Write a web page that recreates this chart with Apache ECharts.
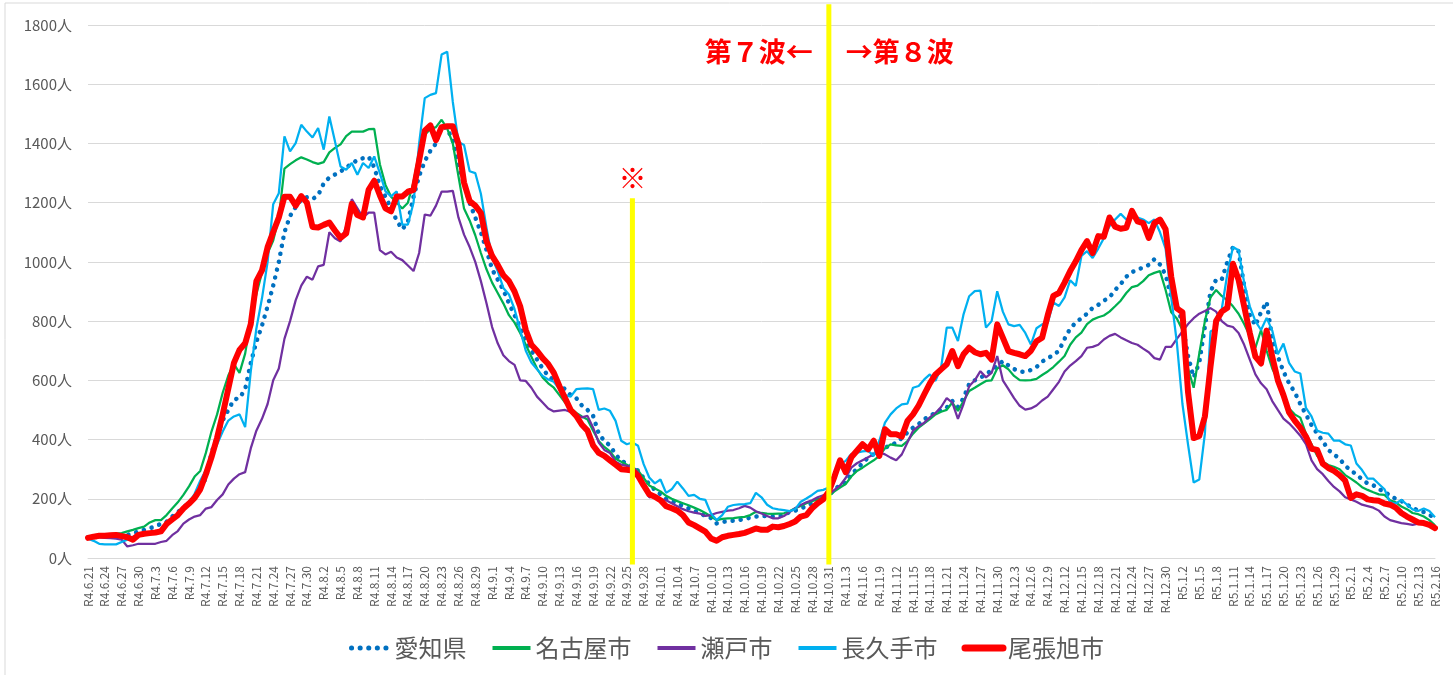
<!DOCTYPE html>
<html>
<head>
<meta charset="utf-8">
<title>新規陽性者数 推移</title>
<script src="https://cdn.jsdelivr.net/npm/echarts@6/dist/echarts.min.js"></script>
<style>
  html, body { margin: 0; padding: 0; background: #fff; }
  #chart { width: 1453px; height: 675px; }
</style>
</head>
<body>
<div id="chart"></div>
<script>
// R4.6.21 〜 R5.2.16 (daily)
const dates = []
for (let d = new Date(2022, 5, 21); d <= new Date(2023, 1, 16); d.setDate(d.getDate() + 1)) {
  const era = d.getFullYear() === 2022 ? 'R4' : 'R5'
  dates.push(era + '.' + (d.getMonth() + 1) + '.' + d.getDate())
}

const yTicks = [0, 200, 400, 600, 800, 1000, 1200, 1400, 1600, 1800]

// 愛知県
const aichi = [
  70, 70, 72, 74, 74, 75, 76, 78, 82, 90,
  95, 100, 108, 115, 122, 140, 155, 170, 188, 205, 232, 270, 355, 410, 465, 500, 535, 540, 570, 659, 730, 785, 850, 920, 1000, 1100, 1155, 1185, 1210, 1218, 1212,
  1225, 1265, 1285, 1295, 1305, 1320, 1330, 1345, 1350, 1355, 1320, 1256, 1220, 1180, 1140, 1110, 1135, 1220, 1290, 1340, 1375, 1400, 1460, 1450, 1410, 1330, 1260, 1200, 1150, 1100, 1040,
  975, 940, 905, 860, 820, 780, 735, 700, 670, 640, 615, 600, 585, 570, 550, 540, 515, 500, 480, 420, 395, 380, 350, 328, 320, 310, 295, 270, 250, 230,
  215, 200, 192, 185, 175, 168, 160, 150, 143, 135, 117, 122, 124, 126, 128, 132, 136, 140, 142, 141, 140, 140, 145, 155, 160, 167, 175, 185, 195, 205, 210,
  233, 245, 255, 283, 300, 320, 339, 351, 360, 373, 379, 390, 405, 424, 440, 452, 469, 480, 490, 500, 508, 530, 510, 540, 587, 600, 609, 620, 635, 648,
  665, 650, 638, 630, 628, 635, 645, 663, 675, 685, 700, 740, 775, 795, 810, 825, 845, 855, 869, 880, 905, 925, 950, 965, 975, 980, 990, 1009, 991, 956, 880,
  860, 790, 682, 610, 660, 782, 900, 940, 940, 1000, 1050, 1036, 920, 820, 785, 830, 865, 740, 680, 630, 590, 560, 520, 485, 449, 420, 395, 365, 350, 335, 312,
  295, 283, 265, 252, 246, 232, 225, 210, 200, 193, 180, 170, 160, 155, 145, 138
]

// 名古屋市
const nagoya = [
  72, 74, 76, 80, 81, 82, 84, 90, 95, 101,
  106, 120, 128, 128, 145, 167, 188, 213, 242, 275, 294, 355, 427, 485, 558, 616, 655, 625, 690, 804, 891, 964, 1029, 1072, 1150, 1315, 1330, 1343, 1353, 1346, 1337,
  1331, 1337, 1370, 1385, 1397, 1425, 1440, 1440, 1440, 1448, 1449, 1330, 1260, 1220, 1200, 1180, 1200, 1270, 1370, 1430, 1448, 1455, 1480, 1450, 1400, 1290, 1180, 1140, 1090, 1030, 975,
  930, 895, 860, 820, 795, 760, 720, 680, 640, 610, 590, 575, 550, 525, 505, 490, 478, 468, 430, 395, 375, 360, 335, 325, 315, 305, 296, 270, 245, 235,
  225, 210, 200, 192, 185, 178, 170, 162, 152, 140, 128, 132, 134, 135, 137, 139, 145, 156, 152, 150, 149, 150, 151, 158, 168, 176, 185, 192, 198, 205, 210,
  225, 238, 250, 275, 294, 305, 318, 330, 345, 370, 384, 380, 379, 395, 420, 440, 455, 469, 485, 494, 500, 525, 497, 530, 564, 575, 587, 598, 600, 640,
  651, 637, 615, 601, 600, 601, 605, 618, 630, 645, 663, 682, 720, 745, 761, 790, 805, 813, 819, 832, 850, 869, 895, 915, 920, 935, 955, 963, 969, 905, 830,
  809, 770, 640, 575, 690, 800, 880, 905, 885, 870, 850, 825, 790, 750, 710, 770, 700, 640, 600, 545, 505, 485, 474, 420, 384, 345, 325, 314, 308, 300, 280,
  268, 255, 239, 230, 222, 215, 213, 195, 188, 174, 165, 152, 148, 140, 128, 110
]

// 瀬戸市
const seto = [
  72, 72, 70, 68, 67, 65, 62, 39, 43, 48,
  48, 48, 48, 54, 58, 77, 91, 116, 130, 140, 145, 167, 172, 196, 215, 248, 268, 283, 290, 370, 430, 470, 520, 600, 640, 740, 800, 870, 920, 950, 940,
  985, 990, 1100, 1080, 1069, 1120, 1212, 1181, 1150, 1166, 1166, 1040, 1025, 1034, 1015, 1006, 988, 969, 1030, 1160, 1156, 1190, 1237, 1237, 1240, 1150, 1092, 1050, 1000, 935, 860,
  780, 725, 685, 665, 652, 600, 598, 575, 545, 525, 505, 495, 498, 500, 493, 485, 475, 480, 440, 390, 365, 355, 325, 315, 311, 308, 290, 240, 205, 210,
  200, 195, 185, 175, 165, 158, 153, 150, 142, 145, 152, 156, 160, 162, 168, 176, 170, 158, 150, 142, 134, 134, 142, 155, 168, 179, 188, 195, 205, 212, 215,
  230, 245, 270, 305, 320, 330, 340, 350, 357, 350, 339, 330, 350, 390, 430, 445, 457, 475, 490, 510, 540, 525, 470, 520, 580, 600, 631, 610, 625, 682,
  600, 570, 540, 514, 501, 505, 515, 532, 545, 570, 595, 630, 650, 665, 682, 710, 713, 720, 738, 750, 757, 745, 735, 726, 720, 707, 695, 675, 670, 713, 713,
  740, 765, 790, 810, 825, 834, 844, 832, 800, 785, 780, 760, 720, 670, 620, 590, 570, 530, 500, 471, 455, 435, 413, 385, 330, 300, 283, 260, 240, 225, 205,
  198, 190, 180, 175, 170, 160, 140, 128, 123, 118, 115, 112, 116, 115, 112, 106
]

// 長久手市
const nagakute = [
  65, 58, 48, 46, 46, 46, 54, 62, 72, 80,
  83, 85, 87, 97, 116, 130, 149, 167, 188, 217, 261, 297, 340, 384, 427, 464, 478, 485, 442, 630, 775, 877, 1000, 1195, 1232, 1424, 1373, 1401, 1463, 1440, 1420,
  1452, 1379, 1491, 1407, 1322, 1311, 1334, 1294, 1334, 1317, 1356, 1300, 1238, 1221, 1238, 1126, 1126, 1200, 1400, 1553, 1564, 1570, 1700, 1710, 1540, 1405, 1395, 1306, 1300, 1230, 1115,
  1013, 969, 912, 890, 840, 770, 700, 660, 637, 615, 603, 595, 570, 550, 545, 570, 572, 573, 570, 500, 505, 497, 463, 396, 384, 390, 379, 317, 272, 252,
  265, 220, 232, 258, 235, 210, 213, 200, 196, 150, 128, 145, 173, 179, 181, 182, 185, 220, 205, 180, 168, 164, 162, 158, 165, 190, 201, 213, 227, 230, 238,
  261, 317, 328, 351, 356, 360, 362, 345, 396, 457, 485, 505, 519, 521, 575, 581, 603, 620, 598, 643, 778, 778, 733, 823, 884, 901, 903, 778, 800, 901,
  832, 789, 783, 787, 760, 721, 776, 789, 794, 863, 851, 880, 938, 919, 1020, 1036, 1013, 1045, 1080, 1120, 1143, 1162, 1143, 1156, 1150, 1143, 1131, 1143, 1100, 1045, 880,
  728, 520, 383, 255, 265, 420, 765, 775, 840, 960, 1050, 1039, 930, 850, 800, 770, 811, 768, 688, 724, 659, 630, 623, 507, 478, 430, 423, 420, 396, 396, 384,
  380, 319, 297, 268, 268, 250, 232, 188, 184, 196, 180, 164, 159, 167, 159, 138
]

// 尾張旭市
const owariasahi = [
  68, 72, 75, 75, 77, 78, 74, 70, 62, 78,
  82, 84, 86, 90, 115, 130, 145, 167, 184, 203, 232, 283, 340, 406, 485, 572, 659, 703, 725, 790, 935, 971, 1050, 1101, 1150, 1220, 1220, 1190, 1222, 1200, 1118,
  1116, 1125, 1133, 1106, 1081, 1096, 1196, 1158, 1150, 1243, 1274, 1225, 1181, 1171, 1221, 1221, 1237, 1243, 1343, 1443, 1461, 1411, 1455, 1458, 1458, 1399, 1268, 1205, 1190, 1165, 1070,
  1020, 990, 955, 935, 900, 850, 770, 720, 700, 675, 655, 625, 580, 540, 500, 480, 450, 430, 380, 355, 345, 330, 315, 300, 298, 295, 278, 245, 215, 207,
  195, 175, 168, 160, 145, 120, 111, 100, 89, 66, 58, 70, 75, 78, 81, 85, 92, 100, 95, 95, 106, 104, 108, 115, 123, 140, 145, 168, 185, 198, 225,
  275, 330, 290, 340, 362, 384, 367, 396, 345, 435, 418, 418, 410, 463, 485, 515, 553, 590, 620, 637, 654, 699, 648, 688, 710, 695, 688, 693, 670, 789,
  744, 699, 693, 688, 682, 700, 732, 744, 820, 885, 895, 930, 969, 1002, 1040, 1070, 1030, 1087, 1085, 1150, 1119, 1112, 1115, 1172, 1137, 1131, 1081, 1131, 1143, 1110, 950,
  843, 830, 560, 405, 412, 478, 646, 800, 832, 845, 994, 940, 850, 760, 680, 657, 768, 680, 600, 550, 492, 464, 440, 410, 369, 365, 319, 304, 294, 280, 261,
  203, 215, 210, 198, 195, 193, 184, 180, 170, 152, 140, 130, 120, 118, 112, 101
]

// 区切り線 (全数届出見直し / 第７波・第８波の境)
const marks = [
  { date: 'R4.9.26', from: -22, to: 1215 },
  { date: 'R4.10.31', from: -22, to: 1870 }
]

const FONT = '"Noto Sans CJK JP", "Noto Sans", sans-serif'
const chart = echarts.init(document.getElementById('chart'))

function lineSeries(name, data, color, lineStyle) {
  return {
    name: name,
    type: 'line',
    data: data,
    symbol: 'none',
    lineStyle: Object.assign({ color: color, width: 2.25 }, lineStyle),
    itemStyle: { color: color }
  }
}

chart.setOption({
  animation: false,
  textStyle: { fontFamily: FONT },
  grid: { left: 88, right: 18, top: 25, bottom: 117 },
  legend: {
    data: [
      { name: '愛知県', lineStyle: { width: 5, type: [0.1, 8.5], cap: 'round' } },
      { name: '名古屋市', lineStyle: { width: 4 } },
      { name: '瀬戸市', lineStyle: { width: 4 } },
      { name: '長久手市', lineStyle: { width: 4 } },
      { name: '尾張旭市', lineStyle: { width: 7, cap: 'round' } }
    ],
    top: 631,
    left: 'center',
    itemWidth: 38,
    itemHeight: 14,
    itemGap: 24,
    itemStyle: { opacity: 0 },
    textStyle: { fontSize: 24, color: '#595959', fontFamily: FONT }
  },
  xAxis: {
    type: 'category',
    boundaryGap: false,
    data: dates,
    axisTick: { show: false },
    axisLine: { lineStyle: { color: '#d9d9d9' } },
    axisLabel: { interval: 2, rotate: 90, fontSize: 12, color: '#595959', margin: 8 }
  },
  yAxis: {
    type: 'value',
    min: yTicks[0],
    max: yTicks[yTicks.length - 1],
    interval: 200,
    axisLine: { show: false },
    axisTick: { show: false },
    axisLabel: { formatter: v => v + '人', fontSize: 15, color: '#595959', margin: 16 },
    splitLine: { lineStyle: { color: '#d9d9d9' } }
  },
  series: [
    lineSeries('愛知県', aichi, '#0070C0', { width: 4.5, type: [0.1, 8], cap: 'round' }),
    lineSeries('名古屋市', nagoya, '#00B050'),
    lineSeries('瀬戸市', seto, '#7030A0'),
    lineSeries('長久手市', nagakute, '#00B0F0'),
    lineSeries('尾張旭市', owariasahi, '#FF0000', { width: 6, cap: 'round', join: 'round' })
  ]
})

// 黄色の区切り線と注記 (軸の範囲外まで伸ばすので graphic で描く)
const toPx = (date, v) => chart.convertToPixel({ gridIndex: 0 }, [dates.indexOf(date), v])
const overlay = marks.map(m => {
  const p1 = toPx(m.date, m.from)
  const p2 = toPx(m.date, m.to)
  return {
    type: 'line', silent: true, z: 100,
    shape: { x1: p1[0], y1: p1[1], x2: p2[0], y2: p2[1] },
    style: { stroke: '#FFFF00', lineWidth: 5 }
  }
})
const kome = toPx(marks[0].date, marks[0].to)
const border = toPx(marks[1].date, 1710)

chart.setOption({
  graphic: [
    {
      type: 'rect', silent: true,
      shape: { x: 5, y: 3, width: 1460, height: 700 },
      style: { fill: 'none', stroke: '#d9d9d9', lineWidth: 1 }
    },
    ...overlay,
    {
      type: 'text', x: border[0] - 16, y: border[1], silent: true, z: 100,
      style: { text: '第７波←', fill: '#FF0000', font: 'bold 27px ' + FONT, align: 'right', verticalAlign: 'middle' }
    },
    {
      type: 'text', x: border[0] + 17, y: border[1], silent: true, z: 100,
      style: { text: '→第８波', fill: '#FF0000', font: 'bold 27px ' + FONT, align: 'left', verticalAlign: 'middle' }
    },
    {
      type: 'text', x: kome[0], y: kome[1] - 20, silent: true, z: 100,
      style: { text: '※', fill: '#FF0000', font: '28px ' + FONT, align: 'center', verticalAlign: 'middle' }
    }
  ]
})
</script>
</body>
</html>
